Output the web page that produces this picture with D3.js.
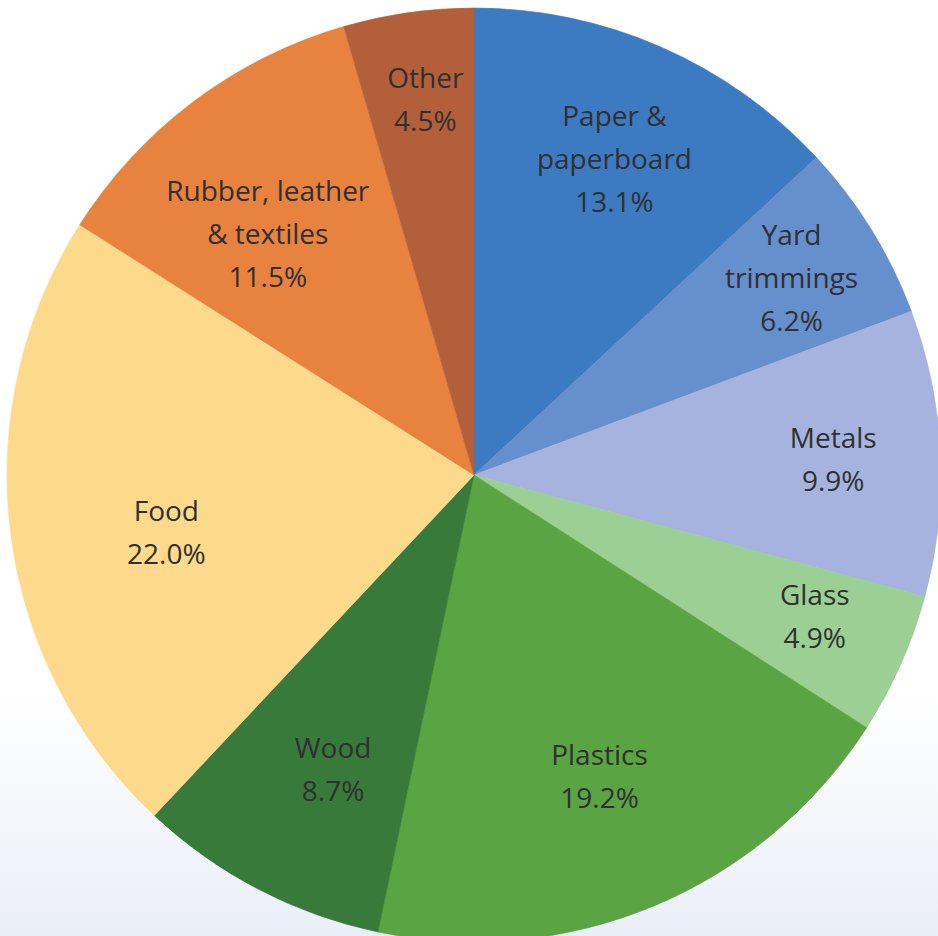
<!DOCTYPE html>
<html>
<head>
<meta charset="utf-8">
<script src="https://cdn.jsdelivr.net/npm/d3@7"></script>
<style>
  html, body { margin: 0; padding: 0; background: #ffffff; }
  svg { display: block; }
</style>
</head>
<body>
<svg id="chart" width="938" height="936"></svg>
<script>
// ---- Data ----
const categories = ["Paper & paperboard", "Yard trimmings", "Metals", "Glass", "Plastics", "Wood", "Food", "Rubber, leather & textiles", "Other"];
const labelLines = [["Paper &", "paperboard"], ["Yard", "trimmings"], ["Metals"], ["Glass"], ["Plastics"], ["Wood"], ["Food"], ["Rubber, leather", "& textiles"], ["Other"]];
const shares = [13.1, 6.2, 9.9, 4.9, 19.2, 8.7, 22.0, 11.5, 4.5];
const colors = ["#3c7bc2", "#658fcd", "#a5b3de", "#9bcf94", "#5ba443", "#377a3a", "#fdd98c", "#e8823f", "#b3603a"];

// ---- Layout (label placement: radius fraction, angle offset in degrees) ----
const labelRadius = [0.74, 0.80, 0.77, 0.79, 0.70, 0.70, 0.67, 0.68, 0.81];
const labelAngleOffset = [0.4, -0.1, 0.2, -1.4, 0.1, -2.0, -3.3, -3.6, 0.7];

const W = 938, H = 936;
const cx = 474, cy = 475, R = 467;
const fontSize = 28, lineH = 43;

const svg = d3.select("#chart");

// background gradient at the bottom
const defs = svg.append("defs");
const grad = defs.append("linearGradient").attr("id", "bg").attr("x1", 0).attr("y1", 0).attr("x2", 0).attr("y2", 1);
grad.append("stop").attr("offset", "0%").attr("stop-color", "#ffffff");
grad.append("stop").attr("offset", "74%").attr("stop-color", "#ffffff");
grad.append("stop").attr("offset", "100%").attr("stop-color", "#eaeef7");
svg.append("rect").attr("width", W).attr("height", H).attr("fill", "url(#bg)");

const data = categories.map((c, i) => ({ name: c, value: shares[i], lines: labelLines[i], color: colors[i], i }));

const pie = d3.pie().sort(null).value(d => d.value);
const arcs = pie(data);
const arc = d3.arc().innerRadius(0).outerRadius(R);

const g = svg.append("g").attr("transform", `translate(${cx},${cy})`);

g.selectAll("path.slice")
  .data(arcs)
  .join("path")
  .attr("class", "slice")
  .attr("d", arc)
  .attr("fill", d => d.data.color)
  .attr("stroke", d => d.data.color)
  .attr("stroke-width", 0.6);

const fmt = d3.format(".1f");

g.selectAll("text.label")
  .data(arcs)
  .join("text")
  .attr("class", "label")
  .attr("text-anchor", "middle")
  .attr("font-family", "'Open Sans', 'Noto Sans', sans-serif")
  .attr("font-size", fontSize)
  .attr("fill", "#303030")
  .each(function(d) {
    const i = d.data.i;
    const mid = (d.startAngle + d.endAngle) / 2 + labelAngleOffset[i] * Math.PI / 180;
    const r = R * labelRadius[i];
    const x = r * Math.sin(mid);
    const y = -r * Math.cos(mid);
    const lines = d.data.lines.concat([fmt(d.data.value) + "%"]);
    const n = lines.length;
    const firstBaseline = y - (n - 1) * lineH / 2 + 10;
    const t = d3.select(this);
    lines.forEach((ln, k) => {
      t.append("tspan")
        .attr("x", x)
        .attr("y", firstBaseline + k * lineH)
        .text(ln);
    });
  });
</script>
</body>
</html>
